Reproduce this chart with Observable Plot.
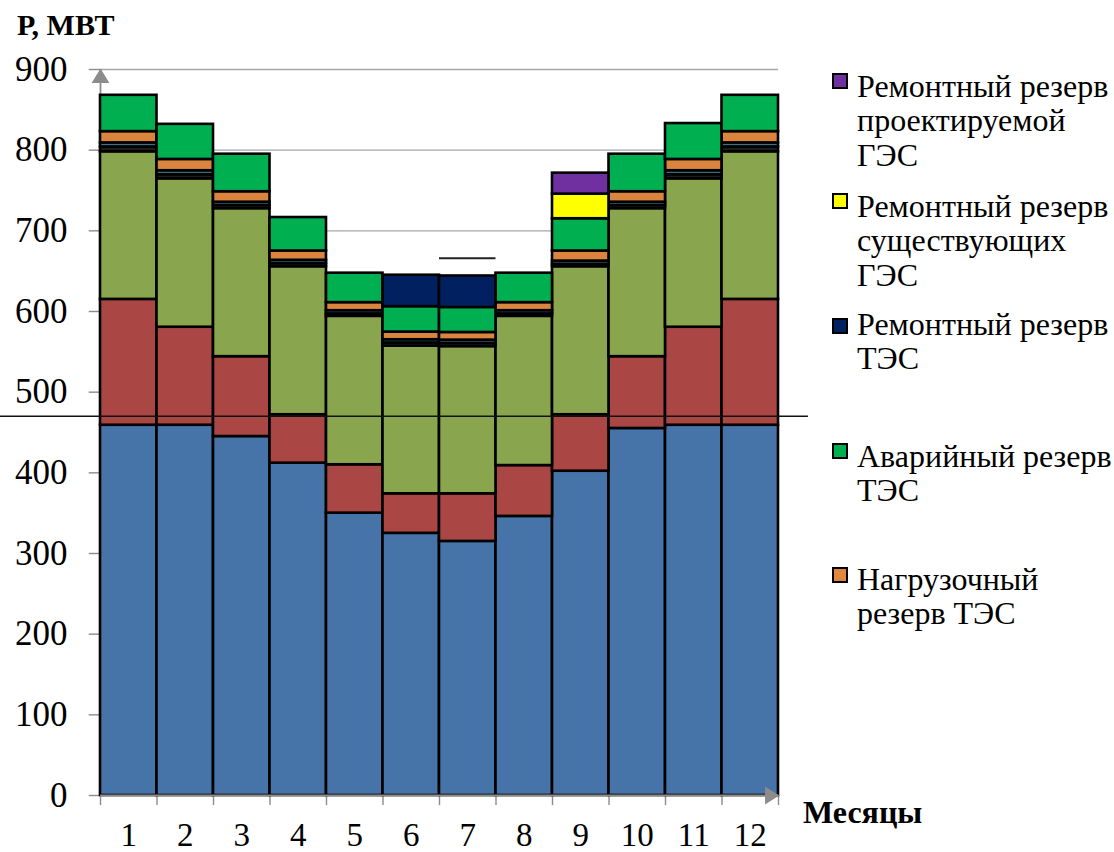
<!DOCTYPE html>
<html>
<head>
<meta charset="utf-8">
<script src="https://cdn.jsdelivr.net/npm/d3@7"></script>
<script src="https://cdn.jsdelivr.net/npm/@observablehq/plot@0.6"></script>
<style>
  html, body { margin: 0; padding: 0; background: #fff; }
  body { color: #000; font-family: "Liberation Serif", "Times New Roman", serif; }
  #wrap { position: relative; width: 1114px; height: 852px; overflow: hidden; }
  #wrap svg { position: absolute; left: 0; top: 0; }
  .title { position: absolute; font-weight: bold; white-space: nowrap; line-height: 1.2; }
  .sw { position: absolute; width: 12px; height: 12px; border: 2.5px solid #000; left: 832px; }
  .lt { position: absolute; left: 857px; white-space: nowrap; }
</style>
</head>
<body>
<div id="wrap"></div>
<script>
// ---------- data ----------
const months = [1, 2, 3, 4, 5, 6, 7, 8, 9, 10, 11, 12];
const yTicks = [0, 100, 200, 300, 400, 500, 600, 700, 800, 900];

// stacked layers, bottom to top (MW)
const layerBlue    = [459, 459, 445, 412, 350, 325, 315, 346, 402, 455, 459, 459];
const layerRed     = [156, 121.5, 99, 60, 60, 49, 59, 63, 70, 89, 121.5, 156];
const layerOlive   = [183, 184, 183.5, 183.5, 184, 183, 182.5, 185, 183.5, 183.5, 184, 183];
const layerDark    = [6, 5, 4, 4, 3, 4, 4, 3, 3, 4, 5, 6];
const layerTeal    = [5, 5, 4, 4, 4, 4, 4, 4, 4, 4, 5, 5];
const loadReserveTES   = [14, 14, 13, 11.5, 10, 9.5, 9.5, 10, 12.5, 13, 14, 14];
const emergReserveTES  = [45, 43.5, 46.5, 41.5, 36.5, 31.5, 31, 36.5, 40, 46.5, 44.5, 45];
const repairReserveTES = [0, 0, 0, 0, 0, 39, 39, 0, 0, 0, 0, 0];
const repairReserveHES = [0, 0, 0, 0, 0, 0, 0, 0, 30.5, 0, 0, 0];
const repairReserveNewHES = [0, 0, 0, 0, 0, 0, 0, 0, 26, 0, 0, 0];

const seriesNames = [
  "Слой 1", "Слой 2", "Слой 3", "Слой 4", "Слой 5",
  "Нагрузочный резерв ТЭС", "Аварийный резерв ТЭС", "Ремонтный резерв ТЭС",
  "Ремонтный резерв существующих ГЭС", "Ремонтный резерв проектируемой ГЭС"
];
const seriesColors = [
  "#4673A8", "#AA4643", "#89A54E", "#1E1E1E", "#3C7283",
  "#DB843D", "#00B050", "#002060", "#FFFF00", "#7030A0"
];
const seriesValues = [
  layerBlue, layerRed, layerOlive, layerDark, layerTeal,
  loadReserveTES, emergReserveTES, repairReserveTES, repairReserveHES, repairReserveNewHES
];

// reference levels
const levelLine = [{value: 470, from: -1.27, to: 13.03}];
const markLine = [{value: 666, month: 7}];

// legend (top to bottom)
const legendItems = [
  {lines: ["Ремонтный резерв", "проектируемой", "ГЭС"], color: "#7030A0"},
  {lines: ["Ремонтный резерв", "существующих", "ГЭС"], color: "#FFFF00"},
  {lines: ["Ремонтный резерв", "ТЭС"], color: "#002060"},
  {lines: ["Аварийный резерв", "ТЭС"], color: "#00B050"},
  {lines: ["Нагрузочный", "резерв ТЭС"], color: "#E0873F"}
];

// ---------- fonts ----------
const FONT = `"Liberation Serif", "Times New Roman", serif`;
const legendSize = 32;
const yTickFont = 35;
const xTickFont = 33;

// ---------- build ----------
const rows = [];
seriesNames.forEach((name, i) => {
  months.forEach((m, j) => {
    const v = seriesValues[i][j];
    if (v > 0) rows.push({month: m, series: name, value: v});
  });
});
const monthEdges = months.map(m => m - 0.5).concat([months[months.length - 1] + 0.5]);
const xMin = monthEdges[0], xMax = monthEdges[monthEdges.length - 1];

// arrowhead shapes (d3 symbol types)
const triUp = {draw(c, size) {
  const h = Math.sqrt(size) * 0.9, w = h * 0.62;
  c.moveTo(0, -h * 0.55); c.lineTo(w, h * 0.45); c.lineTo(-w, h * 0.45); c.closePath();
}};
const triRight = {draw(c, size) {
  const h = Math.sqrt(size) * 0.9, w = h * 0.62;
  c.moveTo(h * 0.55, 0); c.lineTo(-h * 0.45, w); c.lineTo(-h * 0.45, -w); c.closePath();
}};

const gray = "#8C8C8C";
const chart = Plot.plot({
  width: 1114,
  height: 852,
  marginLeft: 100,
  marginRight: 336,
  marginTop: 69,
  marginBottom: 57,
  style: {fontFamily: FONT, fontSize: "34px", background: "#fff", color: "#000", overflow: "visible"},
  x: {type: "linear", domain: [xMin, xMax], label: null},
  y: {domain: [0, 900], label: null},
  color: {domain: seriesNames, range: seriesColors},
  marks: [
    Plot.ruleY(yTicks.slice(1), {x1: xMin, x2: xMax, stroke: "#A6A6A6", strokeWidth: 1.4}),
    Plot.ruleX([xMin], {y1: 0, y2: 900, stroke: gray, strokeWidth: 1.8}),
    Plot.ruleY(yTicks, {x1: xMin - 0.2, x2: xMin, stroke: gray, strokeWidth: 1.4}),
    Plot.ruleX(monthEdges, {y1: -12.5, y2: 0, stroke: gray, strokeWidth: 1.4}),
    Plot.axisY({ticks: yTicks, tickSize: 0, tickPadding: 33, fontSize: yTickFont, label: null, tickFormat: d => String(d)}),
    Plot.axisX({ticks: months, tickSize: 0, tickPadding: 27, fontSize: xTickFont, label: null, tickFormat: d => String(d)}),
    Plot.rectY(rows, {
      x1: d => d.month - 0.5,
      x2: d => d.month + 0.5,
      y: "value",
      fill: "series",
      stroke: "#000",
      strokeWidth: 2.6
    }),
    Plot.ruleY([0], {x1: xMin, x2: xMax, stroke: gray, strokeWidth: 1.8}),
    Plot.dot([{x: xMin, y: 900}], {x: "x", y: "y", symbol: triUp, r: 9, fill: gray, stroke: null, dy: 7}),
    Plot.dot([{x: xMax, y: 0}], {x: "x", y: "y", symbol: triRight, r: 9, fill: gray, stroke: null, dx: -7}),
    Plot.ruleY(levelLine, {y: "value", x1: "from", x2: "to", stroke: "#111", strokeWidth: 1.5}),
    Plot.ruleY(markLine, {y: "value", x1: d => d.month - 0.5, x2: d => d.month + 0.5, stroke: "#222", strokeWidth: 2})
  ]
});

const wrap = document.getElementById("wrap");
wrap.appendChild(chart);

// axis titles (positioned by their baselines)
function addTitle(text, left, baseline, size) {
  const d = document.createElement("div");
  d.className = "title";
  d.style.fontFamily = FONT;
  d.style.fontSize = size + "px";
  d.style.left = left + "px";
  d.style.top = (baseline - size * 0.95) + "px";
  d.textContent = text;
  wrap.appendChild(d);
}
addTitle("Р, МВТ", 17, 35, 30);
addTitle("Месяцы", 803, 823, 32);

// legend
const swatchTops = [73, 193, 318, 443, 567];
const baselines = [97, 217, 335, 467, 590];
const lineStep = 34.5;
legendItems.forEach((item, i) => {
  const sw = document.createElement("div");
  sw.className = "sw";
  sw.style.top = swatchTops[i] + "px";
  sw.style.background = item.color;
  wrap.appendChild(sw);
  const t = document.createElement("div");
  t.className = "lt";
  t.style.fontFamily = FONT;
  t.style.fontSize = legendSize + "px";
  t.style.lineHeight = lineStep + "px";
  t.style.top = (baselines[i] - (lineStep / 2 + legendSize * 0.34)) + "px";
  t.innerHTML = item.lines.join("<br>");
  wrap.appendChild(t);
});
</script>
</body>
</html>
